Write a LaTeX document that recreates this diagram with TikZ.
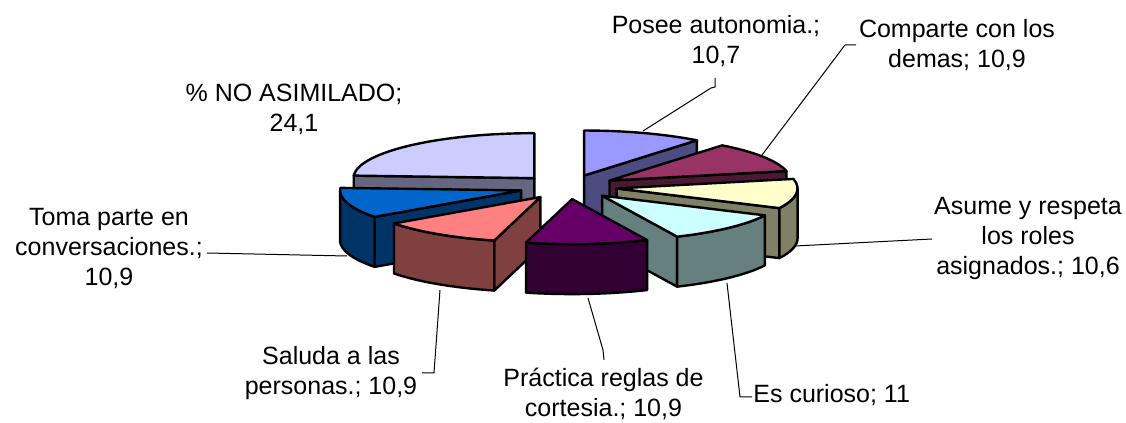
\documentclass[tikz,border=0pt]{standalone}
\usepackage{fontspec}
\setmainfont{Liberation Sans}
\definecolor{cAuton}{HTML}{9999FF}
\definecolor{cComp}{HTML}{993366}
\definecolor{cAsume}{HTML}{FFFFCC}
\definecolor{cCurio}{HTML}{CCFFFF}
\definecolor{cPract}{HTML}{660066}
\definecolor{cSaluda}{HTML}{FF8080}
\definecolor{cToma}{HTML}{0066CC}
\definecolor{cNoAsim}{HTML}{CCCCFF}
\tikzset{
  slicetop/.style={fill=#1, draw=black, line width=1.2pt, line join=round},
  sliceside/.style={fill=#1!50!black, draw=black, line width=1.2pt, line join=round},
  leader/.style={draw=black, line width=0.5pt},
  lbl/.style={font=\fontsize{12.5}{15}\selectfont, align=center, inner sep=0pt}
}
% slice pieces, drawn around the (shifted) vertex of a slice
\newcommand{\pietop}[3]{\draw[slicetop=#3] (0,0) -- (#1:181 and 45) arc[start angle=#1, end angle=#2, x radius=181, y radius=45] -- cycle;}
\newcommand{\pieside}[2]{\draw[sliceside=#2] (0,0) -- (#1:181 and 45) -- ++(0,-50) -- (0,-50) -- cycle;}
\newcommand{\pierim}[3]{\draw[sliceside=#3] (#1:181 and 45) arc[start angle=#1, end angle=#2, x radius=181, y radius=45] -- ++(0,-50) arc[start angle=#2, end angle=#1, x radius=181, y radius=45] -- cycle;}

\begin{document}
\begin{tikzpicture}[x=0.5pt,y=0.5pt]
\useasboundingbox (0,0) rectangle (1126,423);

% % NO ASIMILADO
\begin{scope}[shift={(568,236)},shift={(133.38:48.9 and 12.15)}]
  \pieside{176.76}{cNoAsim}
  \pietop{90}{176.76}{cNoAsim}
\end{scope}
% Posee autonomia
\begin{scope}[shift={(568,236)},shift={(70.74:48.9 and 12.15)}]
  \pieside{51.48}{cAuton}
  \pietop{51.48}{90}{cAuton}
\end{scope}
% Comparte con los demas
\begin{scope}[shift={(568,236)},shift={(31.86:48.9 and 12.15)}]
  \pieside{12.24}{cComp}
  \pietop{12.24}{51.48}{cComp}
\end{scope}
% Toma parte en conversaciones
\begin{scope}[shift={(568,236)},shift={(196.38:48.9 and 12.15)}]
  \pieside{216}{cToma}
  \pierim{180}{216}{cToma}
  \pietop{176.76}{216}{cToma}
\end{scope}
% Asume y respeta los roles
\begin{scope}[shift={(568,236)},shift={(-6.84:48.9 and 12.15)}]
  \pieside{-25.92}{cAsume}
  \pierim{-25.92}{0}{cAsume}
  \pietop{-25.92}{12.24}{cAsume}
\end{scope}
% Saluda a las personas
\begin{scope}[shift={(568,236)},shift={(235.62:48.9 and 12.15)}]
  \pieside{255.24}{cSaluda}
  \pierim{216}{255.24}{cSaluda}
  \pietop{216}{255.24}{cSaluda}
\end{scope}
% Es curioso
\begin{scope}[shift={(568,236)},shift={(-45.72:48.9 and 12.15)}]
  \pieside{-65.52}{cCurio}
  \pierim{-65.52}{-25.92}{cCurio}
  \pietop{-65.52}{-25.92}{cCurio}
\end{scope}
% Practica reglas de cortesia
\begin{scope}[shift={(568,236)},shift={(274.86:48.9 and 12.15)}]
  \pierim{255.24}{294.48}{cPract}
  \pietop{255.24}{294.48}{cPract}
\end{scope}

% labels
\node[lbl] (lblAuton) at (716,382) {Posee autonomia.;\\10,7};
\node[lbl] (lblComp) at (957,377.5) {Comparte con los\\demas; 10,9};
\node[lbl] (lblAsume) at (1028,184.5) {Asume y respeta\\los roles\\asignados.; 10,6};
\node[lbl, anchor=base west] (lblCurio) at (753,20) {Es curioso; 11};
\node[lbl] (lblPract) at (603.5,29.5) {Práctica reglas de\\cortesia.; 10,9};
\node[lbl] (lblSaluda) at (331,50) {Saluda a las\\personas.; 10,9};
\node[lbl] (lblToma) at (109,174.5) {Toma parte en\\conversaciones.;\\10,9};
\node[lbl] (lblNoAsim) at (294,313.3) {\% NO ASIMILADO;\\24,1};

% leader lines
\coordinate (tipAuton) at (643,292);
\coordinate (tipComp) at (762,268);
\coordinate (tipAsume) at (795,177);
\coordinate (tipCurio) at (727,140);
\coordinate (tipPract) at (588,125);
\coordinate (tipSaluda) at (440,133);
\coordinate (tipToma) at (347,167);
\draw[leader] (715,345) -- (715,336) -- (711,335) -- (tipAuton);
\draw[leader] (856,378) -- (845,378) -- (tipComp);
\draw[leader] (932,184) -- (tipAsume);
\draw[leader] (752,26) -- (740,26) -- (tipCurio);
\draw[leader] (604,63) -- (603,73) -- (tipPract);
\draw[leader] (422,50) -- (434,50) -- (tipSaluda);
\draw[leader] (207,170) -- (tipToma);
\end{tikzpicture}
\end{document}
